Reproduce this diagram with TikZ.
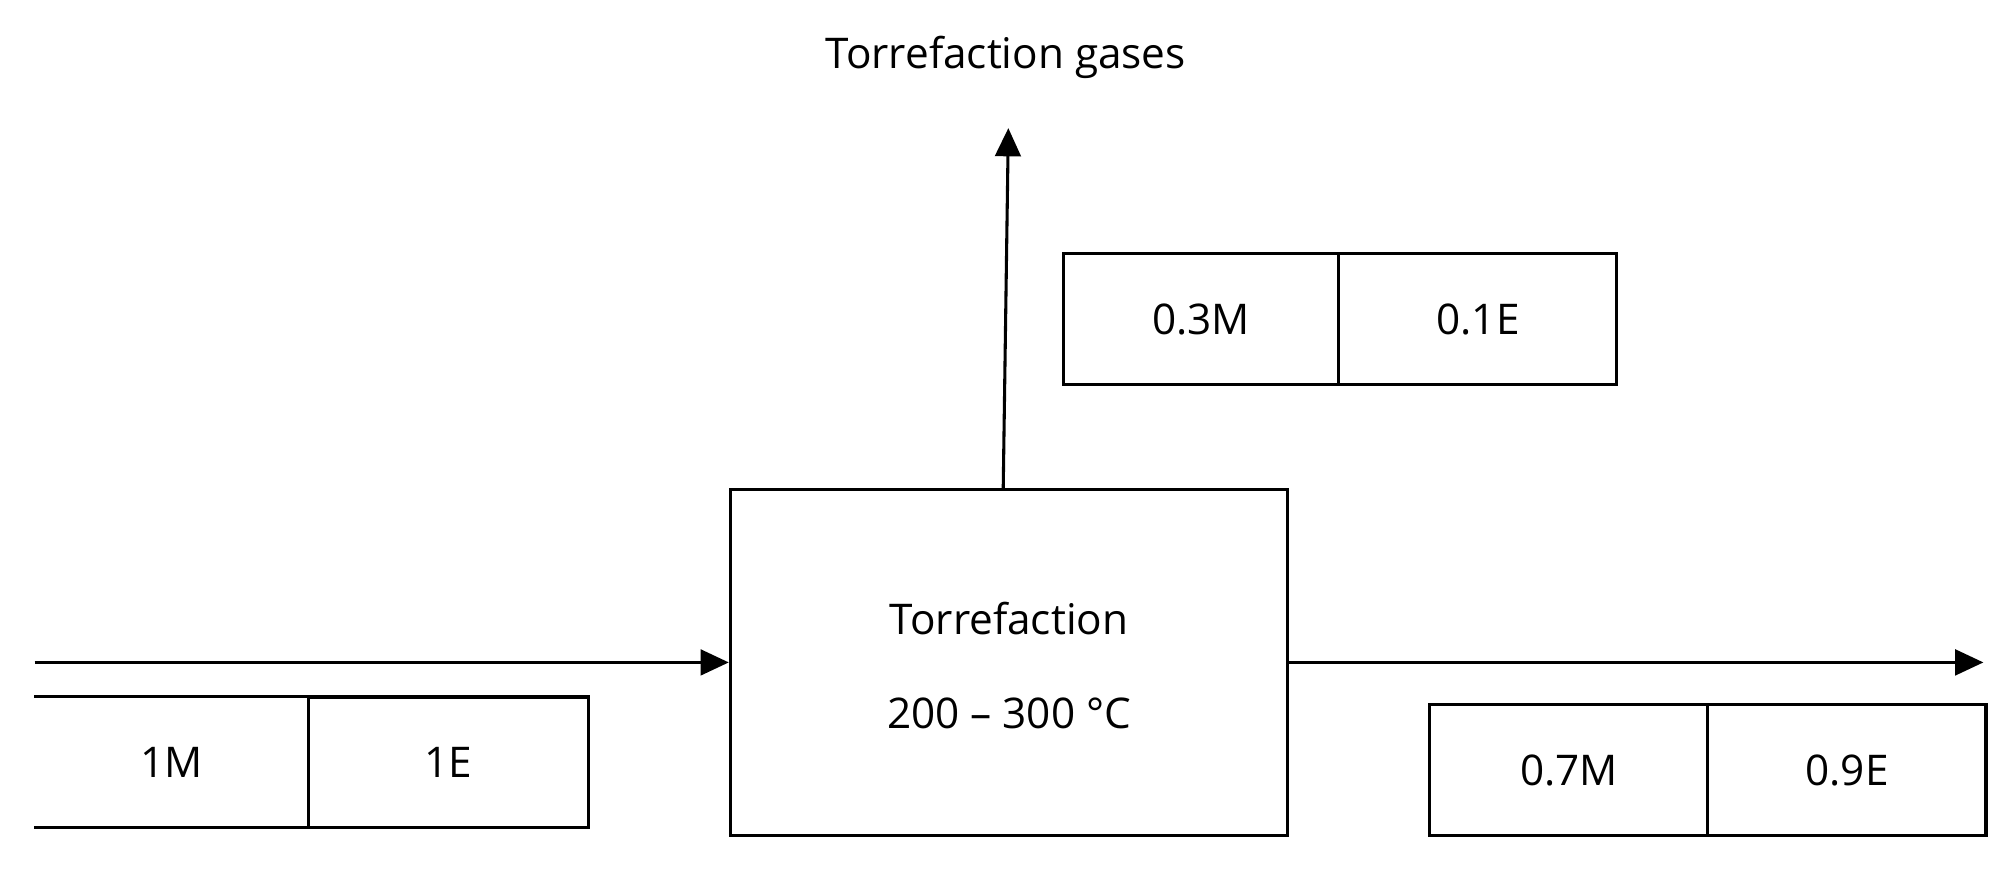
\documentclass[tikz,border=0pt]{standalone}
\usepackage{fontspec}
\setmainfont{Open Sans}
\usetikzlibrary{arrows.meta}
\begin{document}
\begin{tikzpicture}[x=1pt,y=-1pt,
  ln/.style={line width=2.4pt},
  arr/.style={ln,-{Triangle[length=22pt,width=20pt]}},
  lbl/.style={font=\fontsize{33}{40}\selectfont},
  cell/.style={draw,ln,minimum height=102pt,inner sep=0pt,font=\fontsize{33}{40}\selectfont}]
\useasboundingbox (0,0) rectangle (1568,681);
\node[lbl] (gas) at (785,45) {Torrefaction gases};
\node[draw,ln,minimum width=435pt,minimum height=270pt,inner sep=0pt] (tor) at (787.5,517) {};
\node[lbl] (t1) at (787.5,483) {Torrefaction};
\node[lbl] (t2) at (787.5,557) {200 – 300 °C};
\coordinate (gtop) at (787,100);
\draw[arr] (tor.north -| 783,0) -- (gtop);
\node[cell,minimum width=215pt] (gm) at (937.5,249) {0.3M};
\node[cell,minimum width=217pt] (ge) at (1153.5,249) {0.1E};
\coordinate (in) at (27,517);
\draw[arr] (in) -- (tor.west);
\node[minimum width=214pt,minimum height=102pt,inner sep=0pt,lbl] (im) at (134,595) {1M};
\node[cell,minimum width=218pt] (ie) at (350,595) {1E};
\draw[ln] (im.north west) -- (im.north east) (im.south west) -- (im.south east);
\coordinate (out) at (1548,517);
\draw[arr] (tor.east) -- (out);
\node[cell,minimum width=217pt] (om) at (1224.5,601) {0.7M};
\node[cell,minimum width=217pt] (oe) at (1441.5,601) {0.9E};
\end{tikzpicture}
\end{document}
